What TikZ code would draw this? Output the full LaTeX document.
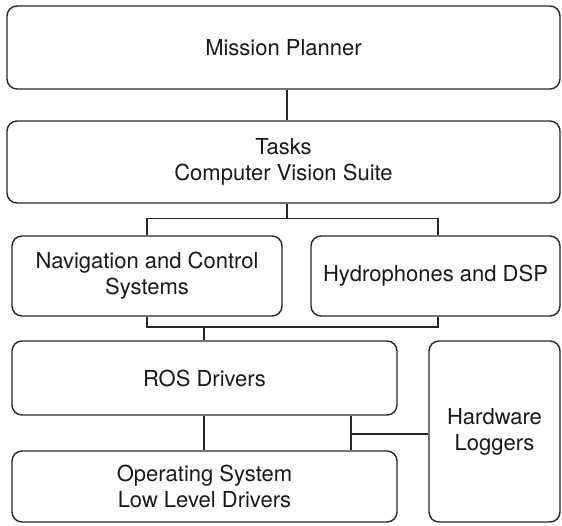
\documentclass[tikz,border=0pt]{standalone}
\usepackage{fontspec}
\setmainfont{TeX Gyre Heros}
\begin{document}
\begin{tikzpicture}[x=1pt,y=-1pt,
  box/.style={draw=black!85, line width=1.4pt, rounded corners=10pt, align=center, inner sep=0pt,
    text=black!90, font=\fontsize{22}{26}\selectfont},
  conn/.style={draw=black!85, line width=1.4pt}]
\useasboundingbox (0,0) rectangle (562,525);
\node[box, minimum width=553pt, minimum height=83pt] (mp) at (283.5,47.5) {Mission Planner};
\node[box, minimum width=553pt, minimum height=82pt] (tasks) at (283.5,162) {Tasks\\Computer Vision Suite};
\node[box, minimum width=270pt, minimum height=80pt] (nav) at (147,276) {Navigation and Control\\Systems};
\node[box, minimum width=249pt, minimum height=80pt] (hyd) at (435.5,276) {Hydrophones and DSP};
\node[box, minimum width=385pt, minimum height=74pt] (ros) at (204.5,378) {ROS Drivers};
\node[box, minimum width=385pt, minimum height=71pt] (os) at (204.5,486.5) {Operating System\\Low Level Drivers};
\node[box, minimum width=131pt, minimum height=181pt] (hw) at (494.5,431.5) {Hardware\\Loggers};
\coordinate (tx) at (287,0);
\coordinate (bl) at (147,218.5);
\coordinate (bm) at (287,218.5);
\coordinate (br) at (438,218.5);
\coordinate (cl) at (147,327);
\coordinate (cm) at (204,327);
\coordinate (cr) at (438,327);
\coordinate (rx) at (351,434);
\draw[conn] (mp.south -| tx) -- (tasks.north -| tx);
\draw[conn] (tasks.south -| tx) -- (bm);
\draw[conn] (nav.north -| bl) -- (bl) -- (br) -- (hyd.north -| br);
\draw[conn] (nav.south -| cl) -- (cl) -- (cr) -- (hyd.south -| cr);
\draw[conn] (cm) -- (ros.north -| cm);
\draw[conn] (ros.south -| cm) -- (os.north -| cm);
\draw[conn] (ros.south -| rx) -- (os.north -| rx);
\draw[conn] (rx) -- (hw.west |- rx);
\end{tikzpicture}
\end{document}
